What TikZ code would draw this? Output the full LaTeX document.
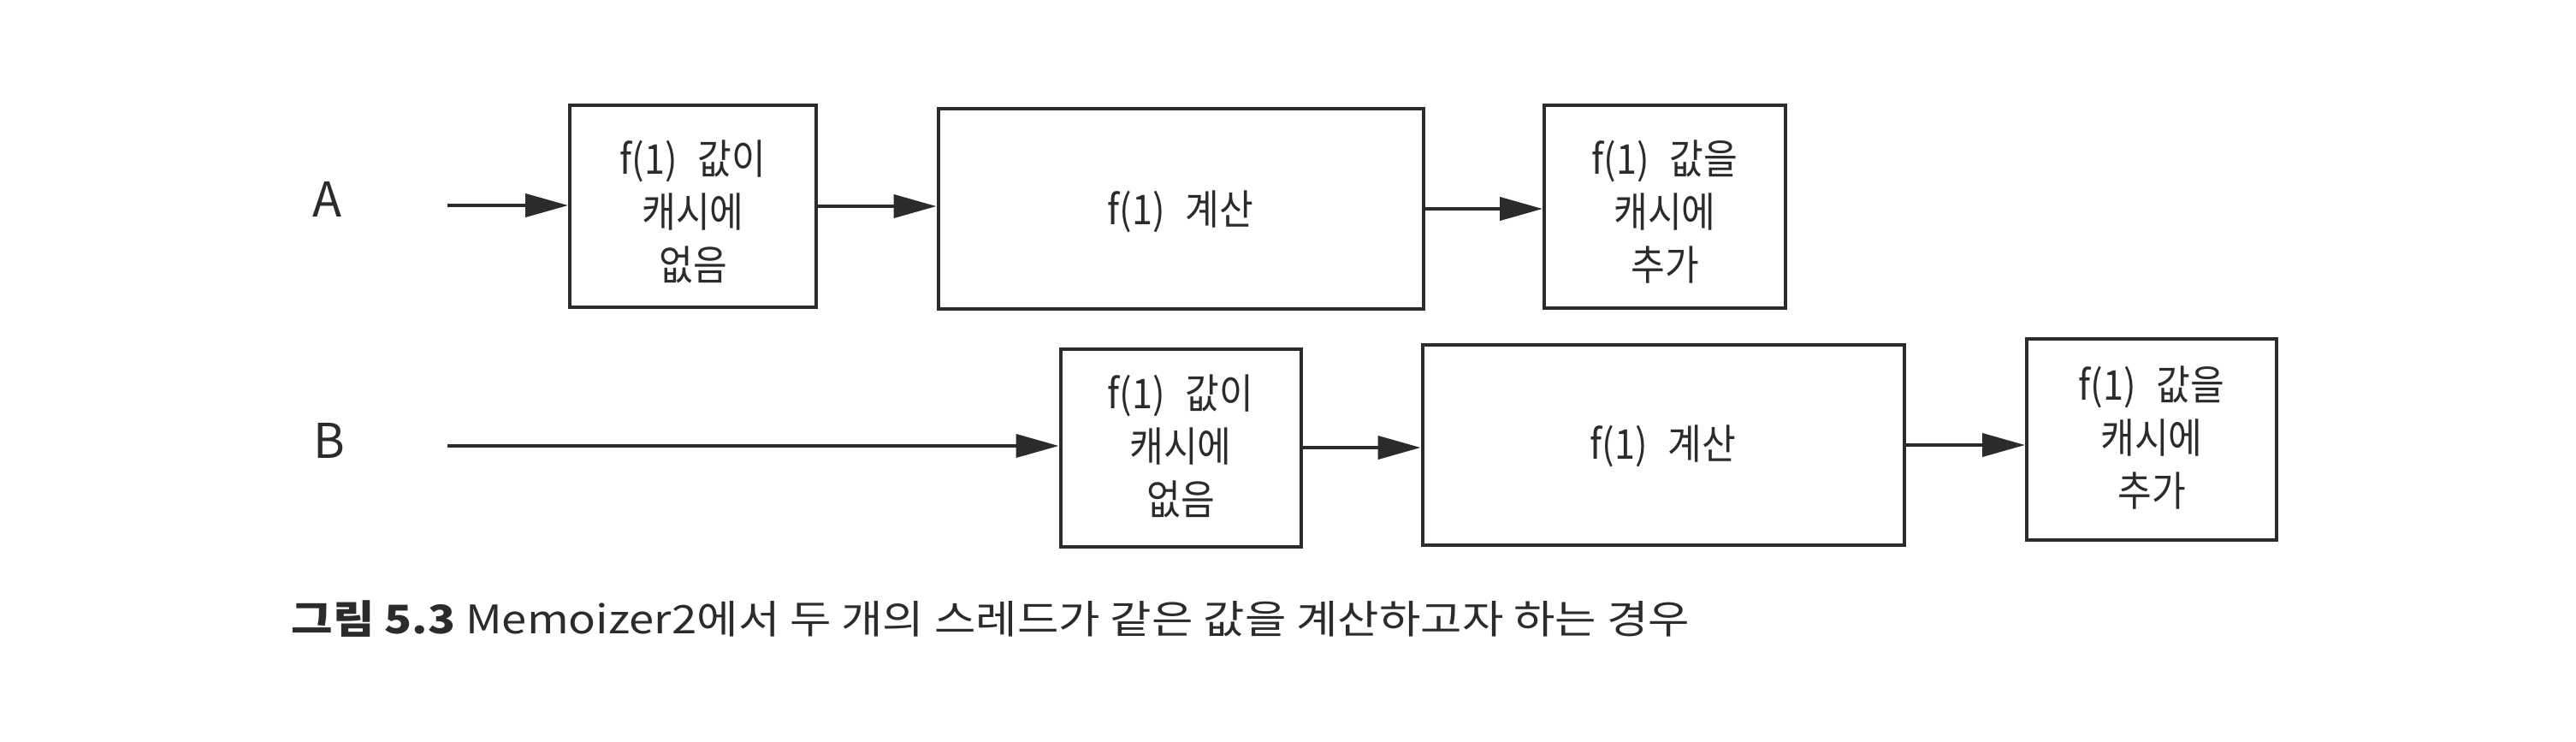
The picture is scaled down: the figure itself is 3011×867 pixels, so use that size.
\documentclass[tikz,border=0pt]{standalone}
\usepackage{fontspec}
\setmainfont{Noto Sans CJK KR}
\newfontfamily\boxfont{Noto Sans CJK KR}[FakeStretch=0.9]
\newfontfamily\capfont{Noto Sans CJK KR}[FakeStretch=1.145]
\usetikzlibrary{arrows.meta}
\definecolor{ink}{HTML}{2B2B2B}
\tikzset{
  stepbox/.style={draw=ink, line width=1pt, rectangle, inner sep=0pt, align=center,
    text=ink, font=\boxfont\fontsize{12pt}{15.6pt}\selectfont},
  flow/.style={draw=ink, line width=1pt, -{Triangle[length=12.5pt,width=6.75pt]}},
  lane/.style={text=ink, font=\fontsize{14pt}{16pt}\selectfont, inner sep=0pt},
}
\newcommand{\gapf}{\hspace{0.5em}}
\newcommand{\lowtext}[2]{\raisebox{#1}[\height][\depth]{\begin{tabular}{@{}c@{}}#2\end{tabular}}}
\begin{document}
\begin{tikzpicture}[x=0.25pt,y=-0.25pt]
\useasboundingbox (0,0) rectangle (3011,867);
% row A
\node[lane] (la) at (383,233) {A};
\coordinate (sa) at (523,240);
\node[stepbox, minimum width=72pt, minimum height=59pt] (a1) at (810,241) {\lowtext{-3pt}{f(1)\gapf 값이\\캐시에\\없음}};
\node[stepbox, minimum width=141.75pt, minimum height=58.5pt] (a2) at (1380,244) {\lowtext{-1.5pt}{f(1)\gapf 계산}};
\node[stepbox, minimum width=70.5pt, minimum height=59.25pt] (a3) at (1946,241) {\lowtext{-3pt}{f(1)\gapf 값을\\캐시에\\추가}};
\draw[flow] (sa) -- (sa -| a1.west);
\draw[flow] (a1.east) -- (a1.east -| a2.west);
\draw[flow] (a2.east) -- (a2.east -| a3.west);
% row B
\node[lane] (lb) at (385,515) {B};
\coordinate (sb) at (523,521);
\node[stepbox, minimum width=70.25pt, minimum height=57.75pt] (b1) at (1380,523) {\lowtext{-1pt}{f(1)\gapf 값이\\캐시에\\없음}};
\node[stepbox, minimum width=140.75pt, minimum height=58.5pt] (b2) at (1944,520) {\lowtext{-1pt}{f(1)\gapf 계산}};
\node[stepbox, minimum width=73pt, minimum height=58.75pt] (b3) at (2515,513) {\lowtext{-1pt}{f(1)\gapf 값을\\캐시에\\추가}};
\draw[flow] (sb) -- (sb -| b1.west);
\draw[flow] (b1.east) -- (b1.east -| b2.west);
\draw[flow] (b2.east) -- (b2.east -| b3.west);
% caption
\node[anchor=west, inner sep=0pt, text=ink, font=\capfont\fontsize{11.5pt}{13pt}\selectfont] (cap) at (340,723)
  {\textbf{그림 5.3} Memoizer2에서 두 개의 스레드가 같은 값을 계산하고자 하는 경우};
\end{tikzpicture}
\end{document}
